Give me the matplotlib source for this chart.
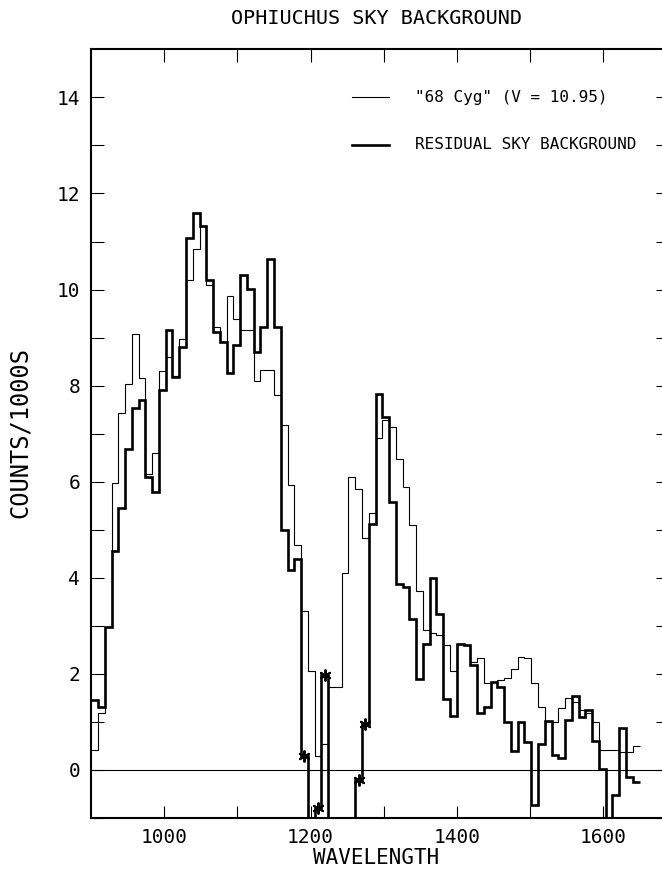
import numpy as np
import matplotlib
matplotlib.use("Agg")
import matplotlib.pyplot as plt

# Voyager-style channels: start wavelength and width (Angstrom)
channel_start = 900.0
channel_width = 9.26

# "68 Cyg" (thin line), counts / 1000 s per channel
star_counts = [
    0.42, 1.18, 2.98, 5.98, 7.43, 8.04, 9.08, 8.15, 6.17, 6.60,
    8.30, 8.60, 8.20, 8.97, 10.19, 10.85, 11.33, 10.10, 9.22, 8.90,
    9.86, 9.39, 9.15, 9.15, 8.10, 8.32, 8.32, 7.81, 7.19, 5.93,
    4.68, 3.31, 2.05, 0.28, 0.54, 1.73, 1.73, 4.10, 6.10, 5.85,
    4.82, 5.35, 6.92, 7.28, 7.13, 6.48, 5.89, 5.09, 3.72, 2.91,
    2.85, 2.80, 2.60, 2.05, 2.63, 2.60, 2.25, 2.32, 1.80, 1.84,
    1.87, 1.91, 2.10, 2.35, 2.32, 1.80, 1.30, 1.02, 1.00, 1.28,
    1.50, 1.42, 1.25, 1.18, 1.00, 0.42, 0.42, 0.42, 0.37, 0.38,
    0.50,
]

# residual sky background (thick line); -2 means off the bottom of the plot
sky_counts = [
    1.46, 1.30, 2.98, 4.55, 5.45, 6.69, 7.53, 7.71, 6.10, 5.79,
    7.90, 9.15, 8.18, 8.80, 11.07, 11.60, 11.33, 10.20, 9.11, 8.90,
    8.26, 8.84, 10.31, 10.01, 8.70, 9.22, 10.64, 9.22, 4.99, 4.16,
    4.40, 0.29, -2.0, -0.80, 1.97, -2.0, -2.0, -2.0, -2.0, -0.21,
    0.95, 5.13, 7.83, 7.35, 5.58, 3.88, 3.81, 3.15, 1.89, 2.63,
    3.99, 3.24, 1.48, 1.12, 2.63, 2.60, 2.18, 1.18, 1.30, 1.84,
    1.72, 1.00, 0.40, 1.00, 0.59, -0.73, 0.53, 1.02, 0.32, 0.24,
    1.05, 1.53, 1.10, 1.25, 0.60, 0.01, -2.0, -0.53, 0.88, -0.14,
    -0.26,
]

# channels flagged with an asterisk (geocoronal region)
flagged = [31, 33, 34, 39, 40]

edges = channel_start + channel_width * np.arange(len(sky_counts) + 1)
centers = 0.5 * (edges[:-1] + edges[1:])
sky = np.array(sky_counts)

plt.rcParams["font.family"] = "DejaVu Sans Mono"

fig = plt.figure(figsize=(6.62, 8.74), dpi=100)
# right spine sits just outside the picture, as in the original scan
ax = fig.add_axes([0.1378, 0.0641, 0.8713, 0.8794])

ax.stairs(star_counts, edges, baseline=None, color="black", linewidth=0.8)
ax.stairs(sky_counts, edges, baseline=None, color="black", linewidth=1.9)
ax.plot(centers[flagged], sky[flagged], linestyle="none", marker=(6, 2, 0),
        markersize=8.5, markeredgewidth=1.4, color="black")

ax.axhline(0, color="black", linewidth=0.8)

ax.set_xlim(900, 1689)
ax.set_ylim(-1, 15)
ax.set_xticks([1000, 1200, 1400, 1600])
ax.set_xticks(np.arange(1100, 1700, 200), minor=True)
ax.set_yticks(np.arange(0, 15, 2))
ax.set_yticks(np.arange(-1, 15, 2), minor=True)
ax.tick_params(which="both", direction="in", length=9, width=0.8,
               top=True, right=True, labelsize=14, colors="black")
ax.tick_params(axis="y", which="both", pad=8)
ax.tick_params(axis="x", which="both", pad=7)
for s in ax.spines.values():
    s.set_linewidth(1.5)

# legend drawn by hand in axes coordinates
ax.plot([0.452, 0.517], [0.938, 0.938], transform=ax.transAxes,
        color="black", linewidth=0.8)
ax.plot([0.452, 0.517], [0.876, 0.876], transform=ax.transAxes,
        color="black", linewidth=1.9)
ax.text(0.562, 0.938, '"68 Cyg" (V = 10.95)', transform=ax.transAxes,
        fontsize=11.5, va="center", ha="left")
ax.text(0.562, 0.876, "RESIDUAL SKY BACKGROUND", transform=ax.transAxes,
        fontsize=11.5, va="center", ha="left")

fig.text(0.568, 1 - 19 / 874, "OPHIUCHUS SKY BACKGROUND", fontsize=14.5,
         ha="center", va="center")
fig.text(0.568, 1 - 858 / 874, "WAVELENGTH", fontsize=15,
         ha="center", va="center")
fig.text(20 / 662, 1 - 433 / 874, "COUNTS/1000S", fontsize=17,
         ha="center", va="center", rotation=90)

fig.savefig("out.png", dpi=100)
